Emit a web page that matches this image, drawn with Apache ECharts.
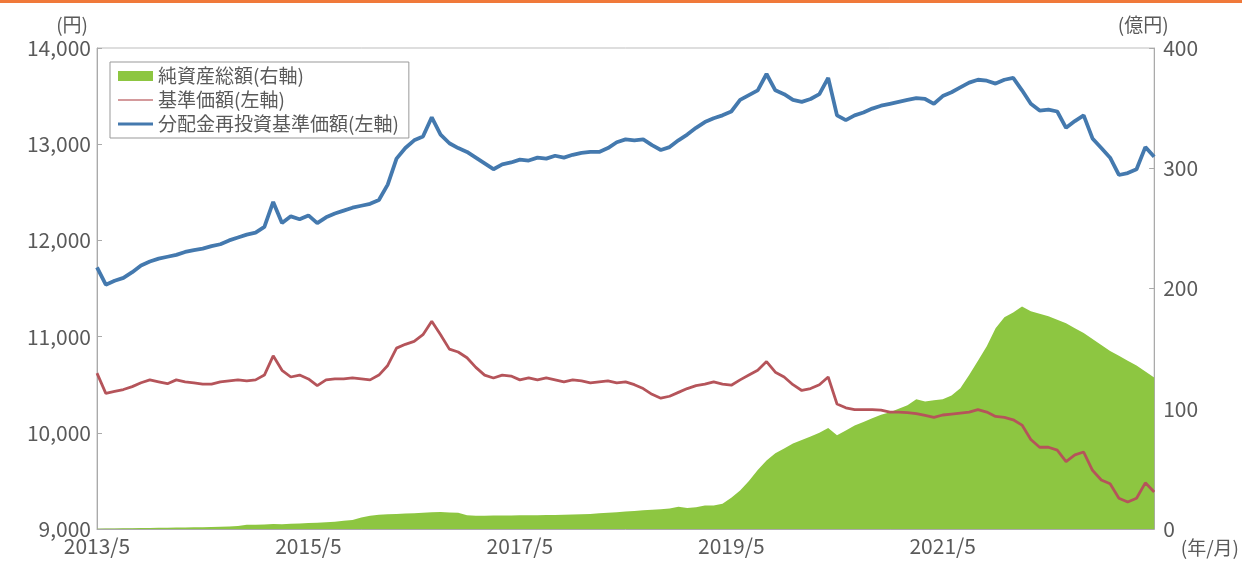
<!DOCTYPE html>
<html>
<head>
<meta charset="utf-8">
<script src="https://cdn.jsdelivr.net/npm/echarts@6/dist/echarts.min.js"></script>
<style>
html,body{margin:0;padding:0;background:#fff;}
#chart{width:1242px;height:563px;}
</style>
</head>
<body>
<div id="chart"></div>
<script>
// Monthly categories from 2013/5 to 2023/5
const startYear = 2013, startMonth = 5, monthCount = 121;
const months = [];
for (let i = 0; i < monthCount; i++) {
  const t = (startMonth - 1) + i;
  months.push((startYear + Math.floor(t / 12)) + '/' + (t % 12 + 1));
}

const seriesNames = ['純資産総額(右軸)', '基準価額(左軸)', '分配金再投資基準価額(左軸)'];

// 純資産総額 (億円, right axis)
const netAssets = [
  0.3,0.4,0.5,0.6,0.7,0.8,0.9,1.0,1.1,1.2,1.3,1.4,1.5,1.7,1.9,2.1,2.4,3.5,3.6,3.8,
  4.2,4.0,4.3,4.6,5.0,5.3,5.6,6.0,6.8,7.5,9.5,11.0,11.8,12.2,12.5,12.8,13.2,13.5,14.0,14.2,
  13.8,13.5,11.5,11.0,11.0,11.2,11.2,11.3,11.4,11.5,11.5,11.6,11.7,11.8,12.0,12.2,12.5,13.0,13.5,14.0,
  14.5,15.0,15.5,16.0,16.5,17.0,18.5,17.5,18.0,19.5,19.5,21,26,32,40,49,57,63,67,71,
  74,77,80,84,78,82,86,89,92,95,97,100,103,108,106,107,108,111,117,128,
  140,152,167,176,180,185,181,179,177,174,171,167,163,158,153,148,144,140,136,131,
  126
];

// 基準価額 (円, left axis)
const navPrice = [
  10620,10410,10430,10450,10480,10520,10550,10530,10510,10550,10530,10520,10505,10505,10530,10540,10550,10540,10550,10600,
  10800,10650,10580,10600,10560,10490,10550,10560,10560,10570,10560,10550,10600,10700,10880,10920,10950,11020,11160,11020,
  10870,10840,10780,10680,10600,10570,10600,10590,10550,10570,10550,10570,10550,10530,10550,10540,10520,10530,10540,10520,
  10530,10500,10460,10400,10360,10380,10420,10460,10490,10505,10530,10505,10495,10550,10600,10650,10740,10630,10580,10500,
  10440,10460,10500,10580,10300,10260,10240,10240,10240,10235,10215,10215,10210,10200,10180,10160,10185,10195,10205,10215,
  10240,10215,10170,10160,10135,10080,9930,9850,9850,9820,9700,9770,9800,9610,9510,9470,9320,9280,9320,9480,
  9385
];

// 分配金再投資基準価額 (円, left axis)
const reinvestPrice = [
  11720,11540,11580,11610,11670,11740,11780,11810,11830,11850,11880,11900,11915,11940,11960,12000,12030,12060,12080,12140,
  12400,12180,12250,12220,12260,12180,12240,12280,12310,12340,12360,12380,12420,12580,12850,12960,13040,13080,13280,13100,
  13010,12960,12920,12860,12800,12740,12790,12810,12840,12830,12860,12850,12880,12860,12890,12910,12920,12920,12960,13020,
  13050,13040,13050,12990,12940,12970,13040,13100,13170,13230,13270,13300,13340,13460,13510,13560,13730,13560,13520,13460,
  13440,13470,13520,13690,13300,13250,13300,13330,13370,13400,13420,13440,13460,13480,13470,13420,13500,13540,13590,13640,
  13670,13660,13630,13670,13690,13560,13420,13350,13360,13340,13170,13240,13300,13060,12960,12860,12680,12700,12740,12970,
  12870
];

const leftTicks = { min: 9000, max: 14000, interval: 1000 };
const rightTicks = { min: 0, max: 400, interval: 100 };

const FONT = "'Noto Sans CJK JP', 'Noto Sans', sans-serif";
const TXT = '#5a5a5a';
const AXIS = '#aaaaaa';
const GREEN = '#8DC641', RED = '#B5545A', BLUE = '#4479AE';

// thin horizontal bar inside a 35x10 box (move points fix the bounding box)
const LINE_ICON = 'path://M0,0 M35,10 M0,4 L35,4 L35,6 L0,6 Z';
const THICK_LINE_ICON = 'path://M0,0 M35,10 M0,3.5 L35,3.5 L35,6.5 L0,6.5 Z';

const chart = echarts.init(document.getElementById('chart'), null, { renderer: 'canvas' });
chart.setOption({
  animation: false,
  backgroundColor: '#ffffff',
  textStyle: { fontFamily: FONT },
  graphic: [{
    type: 'rect', left: 0, top: 0, z: 100,
    shape: { width: 1242, height: 3 },
    style: { fill: '#F0793A' }
  }],
  grid: {
    left: 97, right: 84, top: 48, bottom: 34,
    show: true, borderColor: '#bdbdbd', borderWidth: 1
  },
  legend: {
    orient: 'vertical',
    left: 110, top: 62,
    padding: [4, 10, 4, 8],
    itemGap: 4,
    itemWidth: 35, itemHeight: 10,
    borderColor: '#999999', borderWidth: 1,
    backgroundColor: '#ffffff',
    textStyle: { fontFamily: FONT, fontSize: 19, color: TXT, lineHeight: 20 },
    data: [
      { name: seriesNames[0], icon: 'rect' },
      { name: seriesNames[1], icon: LINE_ICON, itemStyle: { color: '#D49A9C' } },
      { name: seriesNames[2], icon: THICK_LINE_ICON }
    ]
  },
  xAxis: {
    type: 'category',
    data: months,
    boundaryGap: false,
    name: '(年/月)',
    nameLocation: 'end',
    nameGap: 6,
    nameTextStyle: { fontFamily: FONT, fontSize: 19, color: TXT, align: 'left', verticalAlign: 'top', padding: [9, 0, 0, 0] },
    axisLine: { lineStyle: { color: AXIS } },
    axisTick: {
      inside: true, length: 6, lineStyle: { color: '#777' },
      interval: function (i) { return i % 24 === 0 && i > 0 && i < monthCount - 1; }
    },
    axisLabel: {
      fontFamily: FONT, fontSize: 21, color: TXT, margin: 7,
      interval: function (i) { return i % 24 === 0 && i < monthCount - 1; }
    },
    splitLine: { show: false }
  },
  yAxis: [{
    type: 'value',
    min: leftTicks.min, max: leftTicks.max, interval: leftTicks.interval,
    name: '(円)',
    nameLocation: 'end',
    nameGap: 14,
    nameTextStyle: { fontFamily: FONT, fontSize: 19, color: TXT, align: 'right', padding: [0, 9, 0, 0] },
    axisLine: { show: true, lineStyle: { color: AXIS } },
    axisTick: { show: true, inside: true, length: 5, lineStyle: { color: AXIS } },
    axisLabel: {
      fontFamily: FONT, fontSize: 21, color: TXT, margin: 6,
      formatter: function (v) { return v.toLocaleString('en-US'); }
    },
    splitLine: { show: false }
  }, {
    type: 'value',
    position: 'right',
    min: rightTicks.min, max: rightTicks.max, interval: rightTicks.interval,
    name: '(億円)',
    nameLocation: 'end',
    nameGap: 14,
    nameTextStyle: { fontFamily: FONT, fontSize: 19, color: TXT, align: 'center', padding: [0, 22, 0, 0] },
    axisLine: { show: true, lineStyle: { color: AXIS } },
    axisTick: { show: true, inside: true, length: 5, lineStyle: { color: AXIS } },
    axisLabel: { fontFamily: FONT, fontSize: 21, color: TXT, margin: 9 },
    splitLine: { show: false }
  }],
  series: [{
    name: seriesNames[0],
    type: 'line',
    yAxisIndex: 1,
    data: netAssets,
    symbol: 'none',
    lineStyle: { width: 0, color: GREEN },
    itemStyle: { color: GREEN },
    areaStyle: { color: GREEN, opacity: 1 },
    z: 1
  }, {
    name: seriesNames[1],
    type: 'line',
    yAxisIndex: 0,
    data: navPrice,
    symbol: 'none',
    lineStyle: { width: 2.8, color: RED },
    itemStyle: { color: RED },
    z: 2
  }, {
    name: seriesNames[2],
    type: 'line',
    yAxisIndex: 0,
    data: reinvestPrice,
    symbol: 'none',
    lineStyle: { width: 3.8, color: BLUE },
    itemStyle: { color: BLUE },
    z: 3
  }]
});
</script>
</body>
</html>
